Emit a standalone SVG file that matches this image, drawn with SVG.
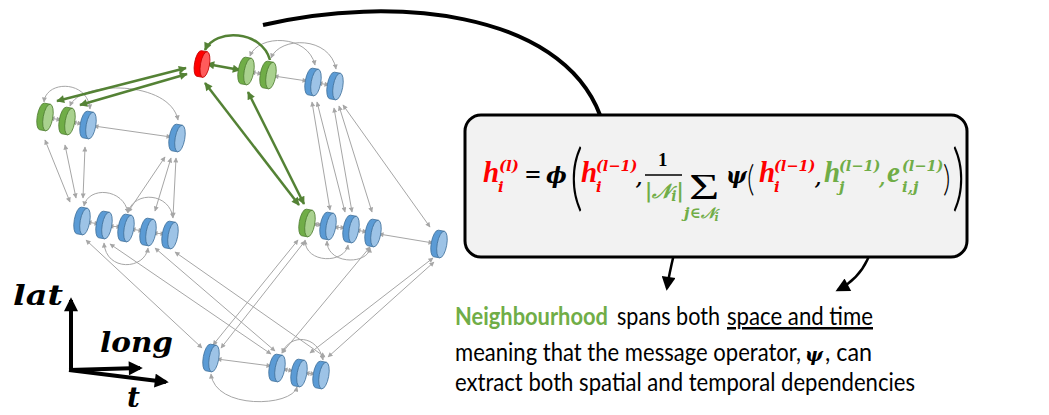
<svg xmlns="http://www.w3.org/2000/svg" xmlns:xlink="http://www.w3.org/1999/xlink" width="1049" height="415" viewBox="0 0 1049 415">
<defs>
<style>
.g{fill:none;stroke:#a6a6a6;stroke-width:1;marker-start:url(#ag);marker-end:url(#ag)}
.gr{fill:none;stroke:#548235;stroke-width:2.5}
.grb{marker-start:url(#agr);marker-end:url(#agr)}
.m{font-family:"Liberation Serif","DejaVu Serif",serif;font-weight:bold;font-style:italic}
.ms{font-family:"DejaVu Serif","Liberation Serif",serif;font-weight:bold;font-style:italic}
.up{font-family:"Liberation Serif","DejaVu Serif",serif;font-weight:bold}
.par{font-family:Lato,"DejaVu Sans",sans-serif;font-weight:300;fill:#000}
.red{fill:#ff0000}
.grn{fill:#70ad47}
.blk{fill:#000}
.tx{font-family:Lato,"Liberation Sans",sans-serif;font-size:25px}
.ax{font-family:"DejaVu Serif","Liberation Serif",serif;font-weight:bold;font-style:italic;font-size:28px;fill:#000}
</style>
<marker id="ag" viewBox="0 0 10 10" refX="9" refY="5" markerWidth="6" markerHeight="5" markerUnits="userSpaceOnUse" orient="auto-start-reverse"><path d="M0,0 L10,5 L0,10 Z" fill="#a6a6a6"/></marker>
<marker id="agr" viewBox="0 0 10 10" refX="9" refY="5" markerWidth="9" markerHeight="8" markerUnits="userSpaceOnUse" orient="auto-start-reverse"><path d="M0,0 L10,5 L0,10 Z" fill="#548235"/></marker>
<marker id="ak" viewBox="0 0 10 10" refX="8" refY="5" markerWidth="15" markerHeight="14" markerUnits="userSpaceOnUse" orient="auto"><path d="M0,0 L10,5 L0,10 Z" fill="#000"/></marker>
<marker id="ak2" viewBox="0 0 10 10" refX="8" refY="5" markerWidth="16" markerHeight="14" markerUnits="userSpaceOnUse" orient="auto"><path d="M0,0 L10,5 L0,10 Z" fill="#000"/></marker>
<g id="cb"><path d="M3,-13.5 L-3,-13.5 A4.8,13.5 0 0 0 -3,13.5 L3,13.5 Z" fill="#5b9bd5" stroke="#41719c" stroke-width="0.8"/><ellipse cx="3" cy="0" rx="4.8" ry="13.5" fill="#9dc3e6" stroke="#41719c" stroke-width="0.8"/></g>
<g id="cg"><path d="M3,-13.5 L-3,-13.5 A4.8,13.5 0 0 0 -3,13.5 L3,13.5 Z" fill="#70ad47" stroke="#507e32" stroke-width="0.8"/><ellipse cx="3" cy="0" rx="4.8" ry="13.5" fill="#a9d18e" stroke="#507e32" stroke-width="0.8"/></g>
<g id="cr"><path d="M3,-13 L-3,-13 A4.5,13 0 0 0 -3,13 L3,13 Z" fill="#ff0000" stroke="#c00000" stroke-width="0.8"/><ellipse cx="3" cy="0" rx="4.5" ry="13" fill="#ff5b5b" stroke="#c00000" stroke-width="0.8"/></g>
</defs>
<rect width="1049" height="415" fill="#fff"/>

<g id="connectors">
<!-- top-left plane -->
<line class="g" x1="50" y1="118" x2="61" y2="120"/>
<line class="g" x1="72" y1="122" x2="82" y2="124"/>
<line class="g" x1="94" y1="126" x2="171" y2="137"/>
<path class="g" d="M44,102 C46,80 88,80 90,109"/>
<path class="g" d="M70,106 C80,80 170,80 178,120"/>
<line class="g" x1="45" y1="140" x2="70" y2="202"/>
<line class="g" x1="65" y1="145" x2="76" y2="198"/>
<line class="g" x1="85" y1="147" x2="83" y2="198"/>
<line class="g" x1="165" y1="157" x2="128" y2="212"/>
<line class="g" x1="171" y1="158" x2="155" y2="211"/>
<line class="g" x1="176" y1="158" x2="173" y2="217"/>
<!-- middle-left plane -->
<line class="g" x1="87" y1="222" x2="99" y2="224"/>
<line class="g" x1="109" y1="226" x2="121" y2="227"/>
<line class="g" x1="131" y1="229" x2="143" y2="231"/>
<line class="g" x1="153" y1="233" x2="165" y2="234"/>
<path class="g" d="M84,206 C88,186 124,188 128,213"/>
<path class="g" d="M128,212 C135,190 170,193 173,218"/>
<path class="g" d="M104,243 C106,272 145,270 148,248"/>
<line class="g" x1="86" y1="240" x2="202" y2="348"/>
<line class="g" x1="110" y1="244" x2="271" y2="354"/>
<line class="g" x1="155" y1="248" x2="275" y2="351"/>
<line class="g" x1="175" y1="252" x2="325" y2="357"/>
<!-- top-middle plane -->
<line class="g" x1="251" y1="72" x2="262" y2="74"/>
<line class="g" x1="274" y1="76" x2="307" y2="81"/>
<line class="g" x1="318" y1="83" x2="329" y2="85"/>
<path class="g" d="M250,56 C258,34 308,34 315,65"/>
<path class="g" d="M271,58 C280,36 330,36 336,69"/>
<line class="g" x1="312" y1="102" x2="330" y2="210"/>
<line class="g" x1="317" y1="102" x2="345" y2="212"/>
<line class="g" x1="334" y1="108" x2="352" y2="212"/>
<line class="g" x1="339" y1="106" x2="372" y2="212"/>
<line class="g" x1="343" y1="105" x2="430" y2="227"/>
<!-- middle-right plane -->
<line class="g" x1="313" y1="224" x2="322" y2="225"/>
<line class="g" x1="334" y1="227" x2="345" y2="228"/>
<line class="g" x1="356" y1="230" x2="367" y2="232"/>
<line class="g" x1="379" y1="234" x2="433" y2="243"/>
<path class="g" d="M305,240 C305,264 345,264 348,245"/>
<path class="g" d="M327,241 C327,265 368,265 370,248"/>
<line class="g" x1="298" y1="240" x2="213" y2="345"/>
<line class="g" x1="305" y1="241" x2="221" y2="348"/>
<line class="g" x1="370" y1="247" x2="282" y2="353"/>
<line class="g" x1="433" y1="258" x2="310" y2="353"/>
<line class="g" x1="434" y1="262" x2="328" y2="357"/>
<!-- bottom plane -->
<line class="g" x1="217" y1="359" x2="271" y2="366"/>
<line class="g" x1="283" y1="369" x2="293" y2="371"/>
<line class="g" x1="305" y1="373" x2="315" y2="374"/>
<path class="g" d="M282,353 C290,333 318,335 323,360"/>
<path class="g" d="M211,374 C215,410 292,407 297,387"/>
<!-- green edges -->
<line class="gr grb" x1="186" y1="68" x2="57" y2="101"/>
<line class="gr grb" x1="187" y1="74" x2="80" y2="105"/>
<line class="gr grb" x1="207" y1="64" x2="240" y2="70"/>
<path class="gr" d="M270,60 C262,30 215,28 205,50" marker-end="url(#agr)"/>
<line class="gr grb" x1="205" y1="83" x2="299" y2="205"/>
<line class="gr grb" x1="248" y1="92" x2="304" y2="204"/>
<!-- black callout curve and arrows -->
<path d="M263,25 C390,-5 560,10 600,115" fill="none" stroke="#000" stroke-width="4"/>
<path d="M680,229 C675,250 670,268 667,288" fill="none" stroke="#000" stroke-width="2.5" marker-end="url(#ak)"/>
<path d="M875,213 C876,250 866,275 838,290" fill="none" stroke="#000" stroke-width="2.5" marker-end="url(#ak)"/>
</g>

<g id="nodes">
<g id="n-tl1" transform="translate(45,117) rotate(10)"><use href="#cg"/></g>
<g id="n-tl2" transform="translate(67,121) rotate(10)"><use href="#cg"/></g>
<g id="n-tl3" transform="translate(88,125) rotate(10)"><use href="#cb"/></g>
<g id="n-tl4" transform="translate(177,138) rotate(10)"><use href="#cb"/></g>
<g id="n-red" transform="translate(202,64) rotate(10)"><use href="#cr"/></g>
<g id="n-tm1" transform="translate(246,71) rotate(10)"><use href="#cg"/></g>
<g id="n-tm2" transform="translate(268,75) rotate(10)"><use href="#cg"/></g>
<g id="n-tm3" transform="translate(313,82) rotate(10)"><use href="#cb"/></g>
<g id="n-tm4" transform="translate(335,86) rotate(10)"><use href="#cb"/></g>
<g id="n-ml1" transform="translate(82,221) rotate(10)"><use href="#cb"/></g>
<g id="n-ml2" transform="translate(104,225) rotate(10)"><use href="#cb"/></g>
<g id="n-ml3" transform="translate(126,228) rotate(10)"><use href="#cb"/></g>
<g id="n-ml4" transform="translate(148,232) rotate(10)"><use href="#cb"/></g>
<g id="n-ml5" transform="translate(170,235) rotate(10)"><use href="#cb"/></g>
<g id="n-mr1" transform="translate(307,223) rotate(10)"><use href="#cg"/></g>
<g id="n-mr2" transform="translate(328,226) rotate(10)"><use href="#cb"/></g>
<g id="n-mr3" transform="translate(351,229) rotate(10)"><use href="#cb"/></g>
<g id="n-mr4" transform="translate(373,233) rotate(10)"><use href="#cb"/></g>
<g id="n-mr5" transform="translate(439,244) rotate(10)"><use href="#cb"/></g>
<g id="n-b1" transform="translate(211,358) rotate(10)"><use href="#cb"/></g>
<g id="n-b2" transform="translate(277,368) rotate(10)"><use href="#cb"/></g>
<g id="n-b3" transform="translate(299,373) rotate(10)"><use href="#cb"/></g>
<g id="n-b4" transform="translate(321,375) rotate(10)"><use href="#cb"/></g>
</g>

<g id="axes">
<line x1="71" y1="371" x2="71" y2="300" stroke="#000" stroke-width="4" marker-end="url(#ak2)"/>
<line x1="69" y1="370" x2="140" y2="368" stroke="#000" stroke-width="4" marker-end="url(#ak2)"/>
<line x1="69" y1="370" x2="166" y2="382" stroke="#000" stroke-width="4" marker-end="url(#ak2)"/>
<text class="ax" x="13" y="305" textLength="50" lengthAdjust="spacingAndGlyphs">lat</text>
<text class="ax" x="100" y="352" textLength="73" lengthAdjust="spacingAndGlyphs">long</text>
<text class="ax" x="127" y="407">t</text>
</g>

<g id="formula-box">
<rect x="465" y="115" width="502" height="142" rx="16" ry="16" fill="#f2f2f2" stroke="#000" stroke-width="3"/>
<text class="m red" x="483" y="182" font-size="29">h</text>
<text class="ms red" x="499" y="171" font-size="15">(l)</text>
<text class="ms red" x="498" y="192" font-size="15">i</text>
<text class="up blk" x="525" y="184" font-size="28">=</text>
<text class="ms blk" x="546" y="183" font-size="22">ϕ</text>
<text class="par" x="0" y="0" font-size="72" transform="translate(570,202) scale(0.7,1)">(</text>
<text class="m red" x="581" y="182" font-size="29">h</text>
<text class="ms red" x="596" y="171" font-size="14.5">(l−1)</text>
<text class="ms red" x="596" y="192" font-size="15">i</text>
<text class="ms blk" x="636" y="185" font-size="18">,</text>
<text class="up blk" x="658" y="166" font-size="19">1</text>
<line x1="645" y1="175" x2="682" y2="175" stroke="#000" stroke-width="1.3"/>
<text class="ms grn" x="645" y="198" font-size="20">|𝒩<tspan font-size="14" dy="3">i</tspan><tspan dy="-3">|</tspan></text>
<text class="blk" font-family="Liberation Serif,serif" x="0" y="0" font-size="40" transform="translate(689,199) scale(1.3,0.92)">Σ</text>
<text class="ms grn" x="684" y="218" font-size="15">j∈𝒩<tspan font-size="11" dy="3">i</tspan></text>
<text class="ms blk" x="726" y="183" font-size="22">ψ</text>
<text class="par" x="0" y="0" font-size="36" transform="translate(747,191) scale(0.8,1)">(</text>
<text class="m red" x="759" y="182" font-size="29">h</text>
<text class="ms red" x="774" y="171" font-size="14.5">(l−1)</text>
<text class="ms red" x="774" y="192" font-size="15">i</text>
<text class="ms blk" x="815" y="185" font-size="18">,</text>
<text class="m grn" x="824" y="182" font-size="29">h</text>
<text class="ms grn" x="839" y="171" font-size="14.5">(l−1)</text>
<text class="ms grn" x="839" y="192" font-size="15">j</text>
<text class="ms grn" x="879" y="185" font-size="18">,</text>
<text class="m grn" x="887" y="182" font-size="29">e</text>
<text class="ms grn" x="902" y="171" font-size="14.5">(l−1)</text>
<text class="ms grn" x="902" y="192" font-size="15">i,j</text>
<text class="par" x="0" y="0" font-size="36" transform="translate(943,191) scale(0.8,1)">)</text>
<text class="par" x="0" y="0" font-size="72" transform="translate(952,202) scale(0.7,1)">)</text>
</g>

<g id="caption">
<text class="tx" x="455" y="325" font-weight="bold" style="fill:#70ad47" textLength="153" lengthAdjust="spacingAndGlyphs">Neighbourhood</text>
<text class="tx" x="617" y="325" style="fill:#000" textLength="103" lengthAdjust="spacingAndGlyphs">spans both</text>
<text class="tx" x="727" y="325" style="fill:#000" textLength="146" lengthAdjust="spacingAndGlyphs" text-decoration="underline">space and time</text>
<text class="tx" x="455" y="361" style="fill:#000" textLength="346" lengthAdjust="spacingAndGlyphs">meaning that the message operator,</text>
<text class="ms" x="805" y="361" font-size="19" style="fill:#000">ψ</text>
<text class="tx" x="825" y="361" style="fill:#000" textLength="47" lengthAdjust="spacingAndGlyphs">, can</text>
<text class="tx" x="455" y="391" style="fill:#000" textLength="460" lengthAdjust="spacingAndGlyphs">extract both spatial and temporal dependencies</text>
</g>
</svg>
